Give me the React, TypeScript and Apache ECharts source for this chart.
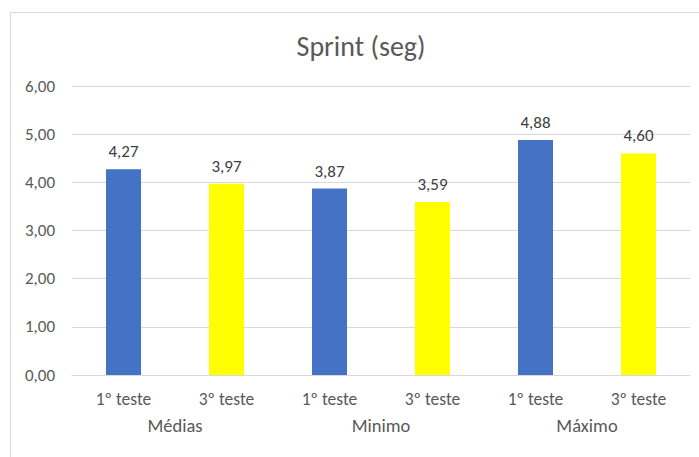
import React, { useEffect, useRef } from "react";
import * as echarts from "echarts";

// Sprint times (seconds) per statistic and test
const groups = ["Médias", "Minimo", "Máximo"];
const tests = ["1º teste", "3º teste"];
const test1 = [4.27, 3.87, 4.88];
const test3 = [3.97, 3.59, 4.6];
const yTicks = [0, 1, 2, 3, 4, 5, 6];

const BLUE = "#4472C4";
const YELLOW = "#FFFF00";
const FONT = "Calibri, Carlito, 'Liberation Sans Narrow', 'Open Sans', sans-serif";

const fmt = (v: number) => v.toFixed(2).replace(".", ",");

export default function App() {
  const ref = useRef<HTMLDivElement>(null);

  useEffect(() => {
    if (!ref.current) return;
    const chart = echarts.init(ref.current, null, { renderer: "svg" });

    const cats: string[] = [];
    const data: any[] = [];
    groups.forEach((g, i) => {
      cats.push(tests[0]);
      data.push({ value: test1[i], itemStyle: { color: BLUE } });
      cats.push(tests[1]);
      data.push({ value: test3[i], itemStyle: { color: YELLOW } });
    });

    chart.setOption({
      animation: false,
      backgroundColor: "#ffffff",
      textStyle: { fontFamily: FONT },
      title: {
        text: "Sprint (seg)",
        left: 361,
        textAlign: "center",
        top: 32,
        padding: 0,
        textStyle: { fontFamily: FONT, fontSize: 28, fontWeight: "normal", color: "#595959" },
      },
      graphic: [
        {
          type: "rect",
          shape: { x: 10.5, y: 12.5, width: 720, height: 480 },
          style: { fill: "none", stroke: "#d9d9d9", lineWidth: 1 },
          silent: true,
        },
      ],
      grid: { left: 72, right: 9, top: 86, bottom: 82, containLabel: false },
      xAxis: [
        {
          type: "category",
          data: cats,
          axisLine: { show: true, lineStyle: { color: "#d9d9d9" } },
          axisTick: { show: false },
          axisLabel: { color: "#595959", fontSize: 17.5, margin: 15, fontFamily: FONT },
        },
        {
          type: "category",
          data: groups,
          position: "bottom",
          offset: 26,
          axisLine: { show: false },
          axisTick: { show: false },
          axisLabel: { color: "#595959", fontSize: 18.5, margin: 15, fontFamily: FONT },
        },
      ],
      yAxis: {
        type: "value",
        min: yTicks[0],
        max: yTicks[yTicks.length - 1],
        interval: 1,
        axisLine: { show: false },
        axisTick: { show: false },
        splitLine: { lineStyle: { color: "#d9d9d9" } },
        axisLabel: { color: "#595959", fontSize: 17, margin: 17, formatter: (v: number) => fmt(v), fontFamily: FONT },
      },
      series: [
        {
          type: "bar",
          xAxisIndex: 0,
          data,
          barWidth: "34%",
          label: {
            show: true,
            position: "top",
            distance: 9,
            color: "#404040",
            fontSize: 17,
            fontFamily: FONT,
            formatter: (p: any) => fmt(p.value),
          },
        },
      ],
    });

    return () => chart.dispose();
  }, []);

  return (
    <div
      ref={ref}
      style={{ position: "absolute", left: 0, top: 0, width: 699, height: 457 }}
    />
  );
}
